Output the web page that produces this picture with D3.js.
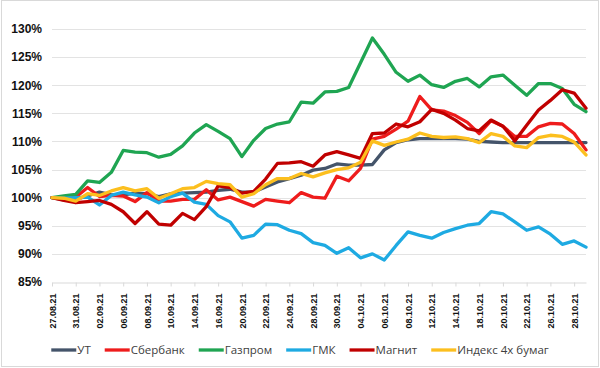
<!DOCTYPE html>
<html>
<head>
<meta charset="utf-8">
<script src="https://cdn.jsdelivr.net/npm/d3@7"></script>
<style>
  body { margin: 0; background: #fff; }
  svg { display: block; }
</style>
</head>
<body>
<div id="chart"></div>
<script>
// trading days 27.08.21 - 29.10.21
const dates = ["27.08.21","30.08.21","31.08.21","01.09.21","02.09.21","03.09.21","06.09.21","07.09.21","08.09.21","09.09.21",
  "10.09.21","13.09.21","14.09.21","15.09.21","16.09.21","17.09.21","20.09.21","21.09.21","22.09.21","23.09.21",
  "24.09.21","27.09.21","28.09.21","29.09.21","30.09.21","01.10.21","04.10.21","05.10.21","06.10.21","07.10.21",
  "08.10.21","11.10.21","12.10.21","13.10.21","14.10.21","15.10.21","18.10.21","19.10.21","20.10.21","21.10.21",
  "22.10.21","25.10.21","26.10.21","27.10.21","28.10.21","29.10.21"]

const seriesNames = ["УТ","Сбербанк","Газпром","ГМК","Магнит","Индекс 4х бумаг"]
const seriesColors = ["#44546a","#ee1c1c","#1fa552","#1eaae2","#c00000","#fcbf1e"]

const ut = [100,99.6,99.7,100.3,101,100.5,100.5,100.8,100.7,100.2,100.7,100.8,100.9,101,101.3,101.5,101,101,101.9,102.8,
  103.4,104,104.9,105.2,106,105.8,105.8,105.9,108.5,109.8,110.3,110.5,110.5,110.5,110.5,110.4,110,109.9,109.8,109.8,
  109.8,109.8,109.8,109.8,109.8,109.8]
const sber = [100,99.8,100.1,101.8,100.2,100.4,100.3,99.3,100.9,99.4,99.4,99.7,99.7,101.4,99.6,100.1,99.3,98.5,99.7,99.4,
  99.1,100.9,100.1,99.9,103.8,103,105.2,110.4,110.9,112.2,113.6,118,115.6,115.4,114.6,113.4,111.4,113.7,112.7,110.9,
  110.9,112.6,113.2,113.1,111.4,108.5]
const gazprom = [100,100.3,100.6,103,102.7,104.5,108.4,108.1,108,107.2,107.7,109.2,111.5,113,111.8,110.5,107.3,110.2,112.3,113.1,
  113.5,117,116.8,118.8,118.9,119.6,124,128.4,125.5,122.3,120.7,121.8,120.1,119.6,120.7,121.2,119.7,121.5,121.8,120,
  118.2,120.3,120.3,119.4,116.6,115.3]
const gmk = [100,99.9,100,100.1,98.7,100.4,101,100.5,100.1,99.1,100.2,100.8,99.2,98.8,96.8,95.7,92.8,93.3,95.3,95.2,
  94.2,93.6,92,91.5,90.1,91.1,89.3,90,88.9,91.5,93.9,93.3,92.8,93.8,94.5,95.1,95.4,97.5,97.1,95.7,
  94.2,94.8,93.5,91.7,92.3,91.2]
const magnit = [100,99.5,99.1,99.3,99.5,98.8,97.5,95.4,97.5,95.3,95.1,97.2,96.1,98.4,102.1,101.8,100.8,101.1,103.3,106.1,
  106.2,106.4,105.6,107.6,108.2,107.6,107,111.4,111.5,113.1,112.6,113.5,115.7,115,113.8,112.3,111.9,113.8,112.7,110.1,
  112.9,115.6,117.3,119.2,118.6,115.9]
const index4 = [100,99.9,99.4,100.7,100.4,101.2,101.8,101.2,101.6,99.9,100.7,101.6,101.8,102.9,102.5,102.3,100.1,100.7,102.3,103.4,
  103.4,104.3,103.7,104.4,105,105.3,106.3,110.1,109.3,109.9,110.4,111.5,110.9,110.7,110.8,110.5,109.8,111.4,110.9,109.2,
  108.9,110.7,111.1,110.9,109.9,107.6]

const yTicks = [85,90,95,100,105,110,115,120,125,130]

const seriesValues = [ut, sber, gazprom, gmk, magnit, index4]
const series = seriesNames.map((name, k) => ({
  name: name,
  color: seriesColors[k],
  values: seriesValues[k].map((v, i) => ({date: dates[i], value: v}))
}))

const width = 600
const height = 368
const margins = {top: 29, bottom: 86, left: 52, right: 14}

const svg = d3.select("#chart")
  .append("svg")
  .attr("width", width)
  .attr("height", height)

// outer frame
svg.append("rect")
  .attr("x", 1.5).attr("y", 0.5)
  .attr("width", width - 3).attr("height", height - 2)
  .attr("fill", "#fff")
  .attr("stroke", "#d9d9d9")

//SCALES
const xScale = d3.scalePoint()
  .domain(dates)
  .range([margins.left, width - margins.right])

const yScale = d3.scaleLinear()
  .domain([85, 130])
  .range([height - margins.bottom, margins.top])

// gridlines
svg.append("g")
  .selectAll("line")
  .data(yTicks.slice(1))
  .join("line")
  .attr("x1", margins.left)
  .attr("x2", width - margins.right)
  .attr("y1", d => Math.round(yScale(d)) + 0.5)
  .attr("y2", d => Math.round(yScale(d)) + 0.5)
  .attr("stroke", "#e3e3e3")
  .attr("stroke-width", 1)

// y labels
svg.append("g")
  .selectAll("text")
  .data(yTicks)
  .join("text")
  .attr("x", 42)
  .attr("y", d => yScale(d))
  .attr("dy", "0.36em")
  .attr("text-anchor", "end")
  .style("font-family", "Liberation Sans, Arial, sans-serif")
  .style("font-weight", "bold")
  .style("font-size", "12px")
  .attr("fill", "#111")
  .text(d => d + "%")

// x axis
const xAxis = svg.append("g")
  .attr("transform", `translate(0,${Math.round(yScale(85)) + 0.5})`)
  .call(d3.axisBottom(xScale)
    .tickValues(dates.filter((d, i) => i % 2 === 0))
    .tickSize(4)
    .tickSizeOuter(0))

xAxis.select(".domain").attr("stroke", "#d9d9d9")
xAxis.selectAll(".tick line").attr("stroke", "#d9d9d9")
xAxis.selectAll(".tick text")
  .attr("transform", "rotate(-90)")
  .attr("x", -11)
  .attr("y", 0)
  .attr("dy", "0.35em")
  .attr("text-anchor", "end")
  .style("font-family", "Liberation Sans, Arial, sans-serif")
  .style("font-weight", "bold")
  .style("font-size", "9px")
  .attr("fill", "#111")

// lines
const line = d3.line()
  .x(d => xScale(d.date))
  .y(d => yScale(d.value))

svg.append("g")
  .selectAll("path")
  .data(series)
  .join("path")
  .attr("d", d => line(d.values))
  .attr("fill", "none")
  .attr("stroke", d => d.color)
  .attr("stroke-width", 3.3)
  .attr("stroke-linejoin", "round")
  .attr("stroke-linecap", "round")

// legend
const legend = svg.append("g")
const items = legend.selectAll("g")
  .data(series)
  .join("g")

items.append("line")
  .attr("x1", 0).attr("x2", 25)
  .attr("y1", 350).attr("y2", 350)
  .attr("stroke", d => d.color)
  .attr("stroke-width", 3.3)

items.append("text")
  .attr("x", 26)
  .attr("y", 350)
  .attr("dy", "0.35em")
  .style("font-family", "Open Sans, sans-serif")
  .style("font-size", "11.5px")
  .attr("fill", "#404040")
  .text(d => d.name)

let pos = 0
items.each(function() {
  const g = d3.select(this)
  g.attr("transform", `translate(${pos},0)`)
  pos += 26 + g.select("text").node().getComputedTextLength() + 14
})
pos -= 14
legend.attr("transform", `translate(${(width - pos) / 2},0)`)
</script>
</body>
</html>
